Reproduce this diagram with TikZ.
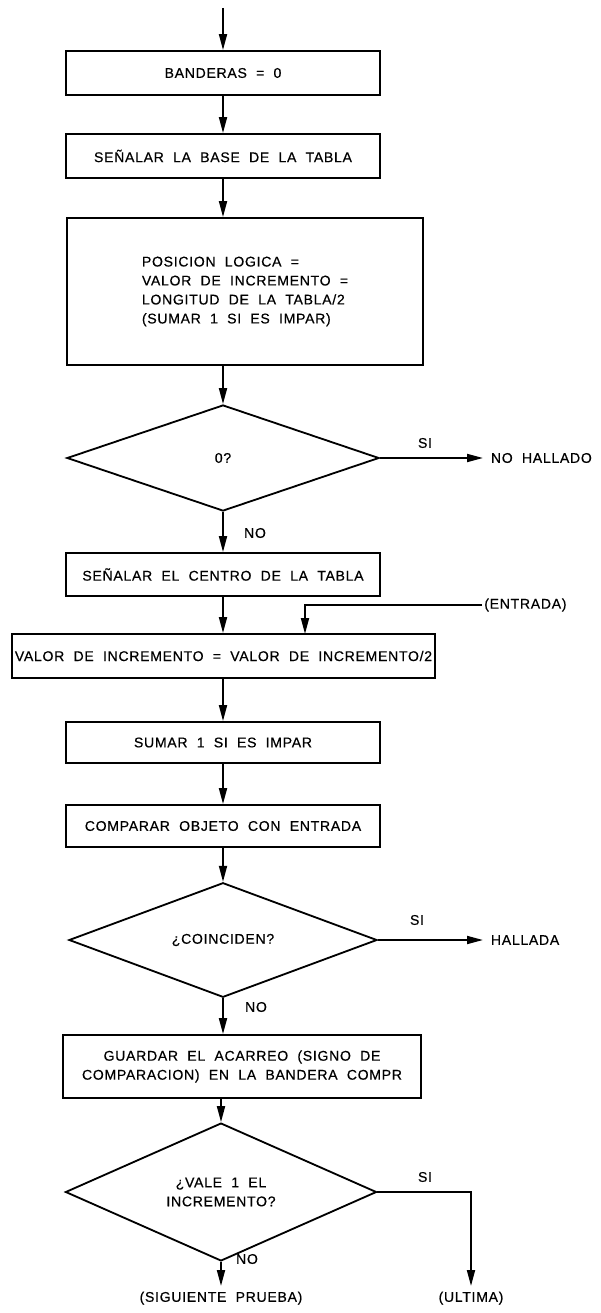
\documentclass[tikz,border=0pt]{standalone}
\usepackage{fontspec}
\setmainfont{Liberation Sans}[LetterSpace=5,WordSpace=2,FakeBold=0.5]
\usetikzlibrary{arrows.meta,shapes.geometric}

\begin{document}
\begin{tikzpicture}[x=0.025cm,y=-0.025cm,line width=1.3pt,
    >={Triangle[length=0.4cm,width=0.2cm]},
    caja/.style={draw,inner sep=2pt,minimum width=7.85cm,minimum height=1.1cm,align=center},
    rombo/.style={draw,diamond,inner sep=0pt,minimum width=7.8cm,minimum height=2.65cm,align=center},
    fin/.style={inner xsep=5pt}]
  \useasboundingbox (0,0) rectangle (600,1313);
  \coordinate (ini) at (223,8);
  \node[caja] (banderas) at (223,73) {BANDERAS = 0};
  \node[caja] (base) at (223,156) {SEÑALAR LA BASE DE LA TABLA};
  \node[caja,minimum width=8.9cm,minimum height=3.675cm,align=left] (posicion) at (245,291.5)
    {POSICION LOGICA =\\[1.5pt] VALOR DE INCREMENTO =\\[1.5pt] LONGITUD DE LA TABLA/2\\[1.5pt] (SUMAR 1 SI ES IMPAR)};
  \node[rombo] (cero) at (223,458) {0?};
  \node[fin,anchor=west] (nohallado) at (483,458) {NO HALLADO};
  \node[caja,minimum height=1.075cm] (centro) at (223,574.5) {SEÑALAR EL CENTRO DE LA TABLA};
  \node[anchor=west,inner xsep=1pt] (entrada) at (482,605) {(ENTRADA)};
  \node[caja,inner sep=0pt,minimum width=10.575cm] (mitad) at (223.5,656) {VALOR DE INCREMENTO = VALOR DE INCREMENTO/2};
  \coordinate (mitadin) at (305,634);
  \node[caja,minimum height=1.025cm] (impar) at (223,742.5) {SUMAR 1 SI ES IMPAR};
  \node[caja,minimum height=1.05cm] (comparar) at (223,826) {COMPARAR OBJETO CON ENTRADA};
  \node[rombo,minimum width=7.7cm] (coinciden) at (223,940) {¿COINCIDEN?};
  \node[fin,anchor=west] (hallada) at (483,940) {HALLADA};
  \node[caja,minimum width=8.95cm,minimum height=1.575cm] (guardar) at (242,1066.5)
    {GUARDAR EL ACARREO (SIGNO DE\\[1.5pt] COMPARACION) EN LA BANDERA COMPR};
  \node[rombo,minimum width=7.775cm] (vale) at (221,1192) {¿VALE 1 EL\\[1.5pt] INCREMENTO?};
  \node[anchor=north] (siguiente) at (221,1286) {(SIGUIENTE PRUEBA)};
  \node[anchor=north] (ultima) at (471,1286) {(ULTIMA)};
  % SI / NO
  \node (si1) at (425,443) {SI};
  \node (no1) at (255,533) {NO};
  \node (si2) at (417,920) {SI};
  \node (no2) at (256,1007) {NO};
  \node (si3) at (425,1177) {SI};
  \node (no3) at (247,1259) {NO};

  \draw[->] (ini) -- (banderas);
  \draw[->] (banderas) -- (base);
  \draw[->] (base) -- (base |- posicion.north);
  \draw[->] (posicion.south -| cero) -- (cero);
  \draw[->] (cero.east) -- (nohallado.west);
  \draw[->] (cero) -- (centro);
  \draw[->] (centro) -- (centro |- mitad.north);
  \draw[->] (entrada.west) -| (mitadin);
  \draw[->] (mitad.south -| impar) -- (impar);
  \draw[->] (impar) -- (comparar);
  \draw[->] (comparar) -- (coinciden);
  \draw[->] (coinciden.east) -- (hallada.west);
  \draw[->] (coinciden) -- (coinciden |- guardar.north);
  \draw[->] (guardar.south -| vale) -- (vale);
  \draw[->] (vale) -- (siguiente);
  \draw[->] (vale.east) -| (ultima);
\end{tikzpicture}
\end{document}
